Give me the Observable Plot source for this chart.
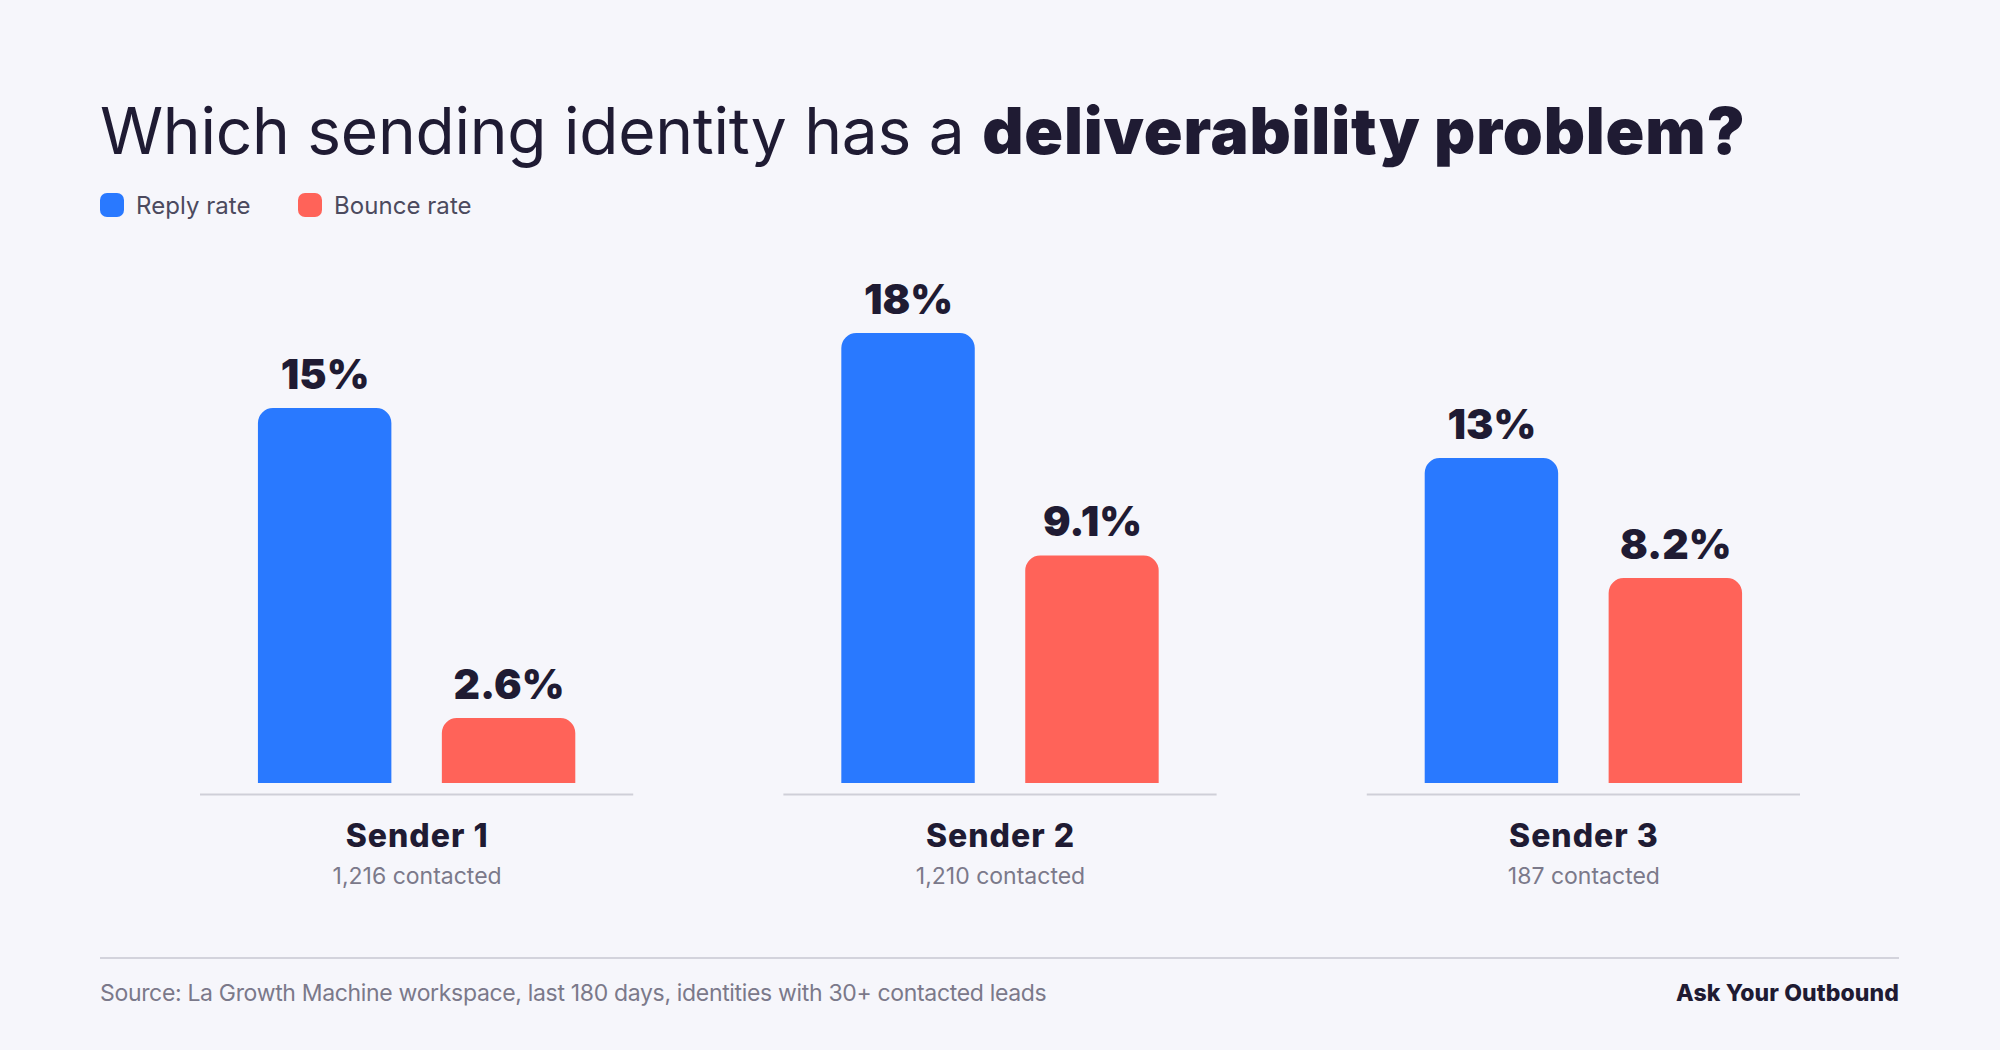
<!DOCTYPE html>
<html>
<head>
<meta charset="utf-8">
<script src="https://cdn.jsdelivr.net/npm/d3@7"></script>
<script src="https://cdn.jsdelivr.net/npm/@observablehq/plot@0.6"></script>
<style>
  html, body { margin: 0; padding: 0; background: #f6f6fb; }
  body { width: 2000px; height: 1050px; overflow: hidden; font-family: Inter, sans-serif; color: #1f1b33; position: relative; }
  #head { height: 260px; position: relative; }
  #title { position: absolute; left: 100px; top: 92px; font-size: 64px; line-height: 78px; font-weight: 400; white-space: nowrap; letter-spacing: -0.25px; }
  #title b { font-weight: 900; letter-spacing: 0.85px; }
  .key { position: absolute; top: 193px; height: 24px; display: flex; align-items: center; font-size: 24px; letter-spacing: 0.05px; color: #4c4a5e; white-space: nowrap; }
  .key i { display: block; width: 24px; height: 24px; border-radius: 7px; margin-right: 12px; }
  svg { display: block; }
  #foot { position: absolute; left: 100px; top: 957px; width: 1799px; border-top: 2px solid #d3d3dc; display: flex; justify-content: space-between; padding-top: 16px; font-size: 23px; line-height: 36px; color: #7b798a; letter-spacing: -0.33px; }
  #foot b { color: #1f1b33; font-weight: 800; letter-spacing: 0.1px; }
  .senderName text { letter-spacing: 1px; }
</style>
</head>
<body>
<div id="head">
  <div id="title">Which sending identity has a <b>deliverability problem?</b></div>
  <div class="key" style="left:100px"><i style="background:#2979ff"></i>Reply rate</div>
  <div class="key" style="left:298px"><i style="background:#ff6359"></i>Bounce rate</div>
</div>
<div id="chart"></div>
<div id="foot"><span>Source: La Growth Machine workspace, last 180 days, identities with 30+ contacted leads</span><b>Ask Your Outbound</b></div>
<script>
const senders = ["Sender 1", "Sender 2", "Sender 3"];
const contacted = ["1,216 contacted", "1,210 contacted", "187 contacted"];
const metrics = ["Reply rate", "Bounce rate"];
const replyRate = [15, 18, 13];
const bounceRate = [2.6, 9.1, 8.2];
const metricColors = ["#2979ff", "#ff6359"];

const bars = senders.flatMap((s, i) => [
  {sender: s, metric: metrics[0], value: replyRate[i]},
  {sender: s, metric: metrics[1], value: bounceRate[i]}
]);
const groups = senders.map((s, i) => ({sender: s, contacted: contacted[i]}));

const plot = Plot.plot({
  width: 2000,
  height: 640,
  marginTop: 23,
  marginBottom: 117,
  marginLeft: 200,
  marginRight: 200,
  style: {background: "transparent", fontFamily: "Inter, sans-serif"},
  fx: {domain: senders, paddingInner: 0.2574, paddingOuter: 0, round: false, axis: null},
  x: {domain: metrics, paddingInner: 0.2745, paddingOuter: 0.315, round: false, axis: null},
  y: {domain: [0, 20], axis: null},
  color: {domain: metrics, range: metricColors},
  marks: [
    Plot.barY(bars, {fx: "sender", x: "metric", y: "value", fill: "metric", ry1: 15, rx: 15}),
    Plot.text(bars, {fx: "sender", x: "metric", y: "value", text: d => d.value + "%", dy: -33, fontSize: 41, fontWeight: 900, fill: "#1f1b33"}),
    Plot.ruleY([0], {dy: 11, stroke: "#cfcfd8", strokeWidth: 2}),
    Plot.text(groups, {fx: "sender", frameAnchor: "bottom", text: "sender", dy: 63, fontSize: 32, fontWeight: 800, fill: "#1f1b33", className: "senderName"}),
    Plot.text(groups, {fx: "sender", frameAnchor: "bottom", text: "contacted", dy: 100, fontSize: 23, fill: "#7b798a"})
  ]
});
document.getElementById("chart").appendChild(plot);
</script>
</body>
</html>
